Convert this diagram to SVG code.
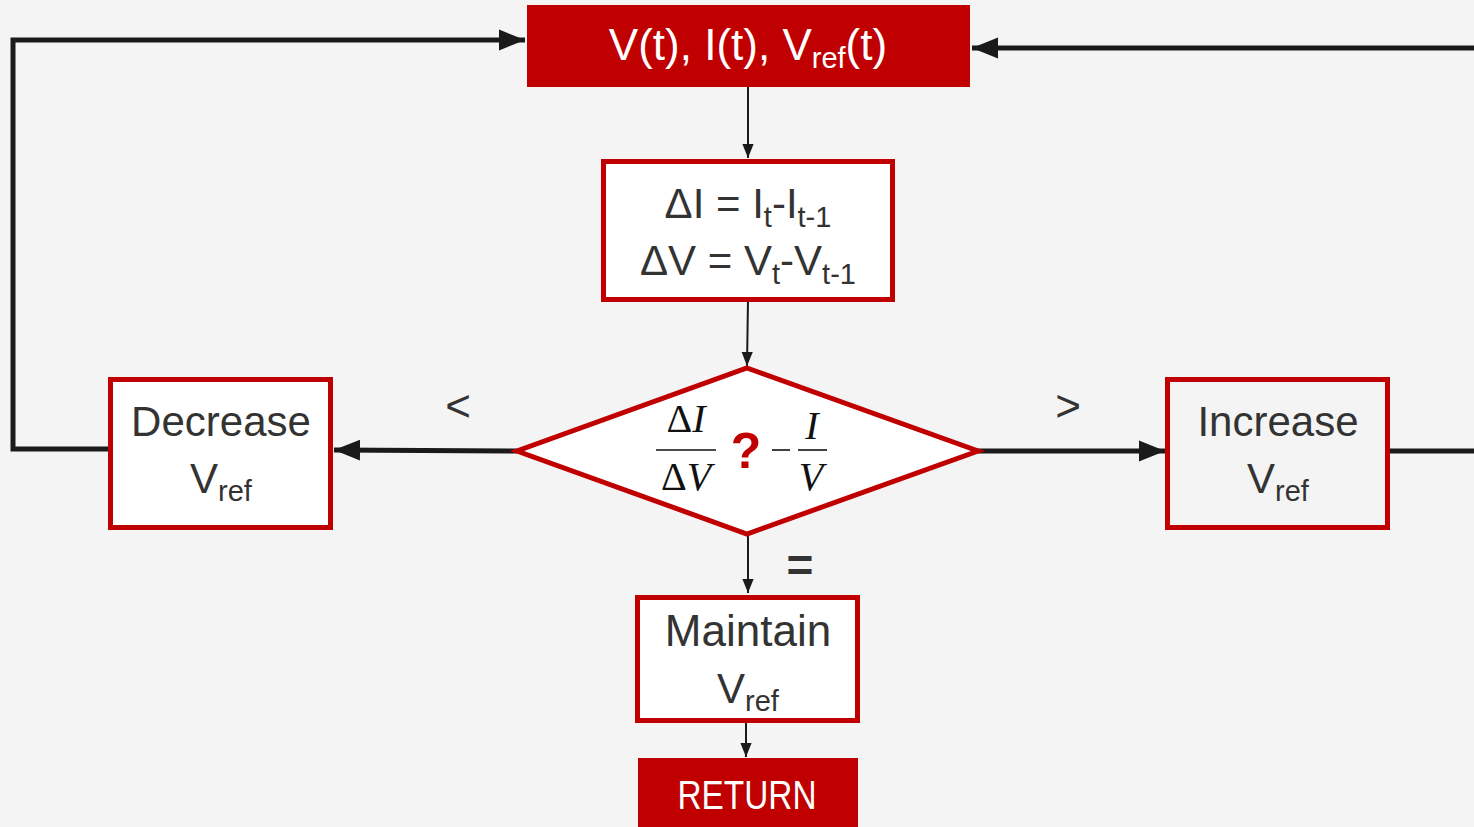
<svg xmlns="http://www.w3.org/2000/svg" width="1474" height="827" viewBox="0 0 1474 827">
<defs>
<marker id="ahb" viewBox="0 0 10 10" refX="10" refY="5" markerWidth="26" markerHeight="26" markerUnits="userSpaceOnUse" orient="auto"><path d="M0,1 L10,5 L0,9 z" fill="#1a1a1a"/></marker>
<marker id="ahm" viewBox="0 0 10 10" refX="10" refY="5" markerWidth="14" markerHeight="14" markerUnits="userSpaceOnUse" orient="auto"><path d="M0,1 L10,5 L0,9 z" fill="#1a1a1a"/></marker>
<style>
.t{font-family:"Liberation Sans",Arial,sans-serif;fill:#333;text-anchor:middle}
.w{font-family:"Liberation Sans",Arial,sans-serif;fill:#fff;text-anchor:middle}
.m{font-family:"Liberation Serif","Times New Roman",serif;fill:#111;text-anchor:middle}
.i{font-style:italic}
.box{stroke:#c00000;stroke-width:5}
.red{fill:#c00000}
.c{fill:none;stroke:#1a1a1a}
</style>
</defs>
<rect width="1474" height="827" fill="#f4f4f4"/>
<g id="connectors">
<polyline class="c" stroke-width="5" points="110,449 13,449 13,40 525,40" marker-end="url(#ahb)"/>
<polyline class="c" stroke-width="5" points="1474,48 972,48" marker-end="url(#ahb)"/>
<line class="c" stroke-width="5" x1="1388" y1="451" x2="1474" y2="451"/>
<line class="c" stroke-width="2" x1="748" y1="87" x2="748" y2="158" marker-end="url(#ahm)"/>
<line class="c" stroke-width="2" x1="748" y1="300" x2="747" y2="366" marker-end="url(#ahm)"/>
<line class="c" stroke-width="5" x1="517" y1="451" x2="334" y2="450" marker-end="url(#ahb)"/>
<line class="c" stroke-width="5" x1="960" y1="451" x2="1165" y2="451" marker-end="url(#ahb)"/>
<line class="c" stroke-width="2" x1="748" y1="534" x2="748" y2="593" marker-end="url(#ahm)"/>
<line class="c" stroke-width="2" x1="746" y1="721" x2="746" y2="757" marker-end="url(#ahm)"/>
<text class="t" x="458" y="421" font-size="44" fill="#555">&lt;</text>
<text class="t" x="1068" y="421" font-size="44" fill="#555">&gt;</text>
<text class="t" x="800" y="581" font-size="46" font-weight="bold">=</text>
</g>
<g id="input">
<rect class="red" x="527" y="5" width="443" height="82"/>
<text class="w" x="748" y="60" font-size="44">V(t), I(t), V<tspan font-size="29" dy="8">ref</tspan><tspan dy="-8">(t)</tspan></text>
</g>
<g id="delta">
<rect class="box" x="603.5" y="161.5" width="289" height="138" fill="#fff"/>
<text class="t" x="748" y="218" font-size="42">ΔI = I<tspan font-size="29" dy="9">t</tspan><tspan dy="-9">-I</tspan><tspan font-size="29" dy="9">t-1</tspan></text>
<text class="t" x="748" y="275" font-size="42">ΔV = V<tspan font-size="29" dy="9">t</tspan><tspan dy="-9">-V</tspan><tspan font-size="29" dy="9">t-1</tspan></text>
</g>
<g id="decision">
<polygon points="747,368 978,451 747,534 517,451" fill="#fff" stroke="#c00000" stroke-width="5"/>
<text class="m" x="686" y="432" font-size="40">Δ<tspan class="i">I</tspan></text>
<line x1="656" y1="450" x2="716" y2="450" stroke="#111" stroke-width="1.6"/>
<text class="m" x="686" y="490" font-size="40">Δ<tspan class="i">V</tspan></text>
<text x="746" y="468" font-family="Liberation Sans,Arial,sans-serif" font-weight="bold" font-size="50" fill="#c00000" text-anchor="middle">?</text>
<line x1="772" y1="450" x2="790" y2="450" stroke="#111" stroke-width="1.6"/>
<text class="m i" x="812" y="439" font-size="40">I</text>
<line x1="798" y1="450" x2="827" y2="450" stroke="#111" stroke-width="1.6"/>
<text class="m i" x="811" y="490" font-size="40">V</text>
</g>
<g id="decrease">
<rect class="box" x="110.5" y="379.5" width="220" height="148" fill="#fff"/>
<text class="t" x="221" y="436" font-size="42">Decrease</text>
<text class="t" x="221" y="493" font-size="42">V<tspan font-size="29" dy="8">ref</tspan></text>
</g>
<g id="increase">
<rect class="box" x="1167.5" y="379.5" width="220" height="148" fill="#f4f4f4"/>
<text class="t" x="1278" y="436" font-size="42">Increase</text>
<text class="t" x="1278" y="493" font-size="42">V<tspan font-size="29" dy="8">ref</tspan></text>
</g>
<g id="maintain">
<rect class="box" x="637.5" y="597.5" width="220" height="123" fill="#fff"/>
<text class="t" x="748" y="646" font-size="44">Maintain</text>
<text class="t" x="748" y="703" font-size="42">V<tspan font-size="29" dy="8">ref</tspan></text>
</g>
<g id="return">
<rect class="red" x="638" y="758" width="220" height="69"/>
<text class="w" x="747" y="809" font-size="40" textLength="139" lengthAdjust="spacingAndGlyphs">RETURN</text>
</g>
</svg>
